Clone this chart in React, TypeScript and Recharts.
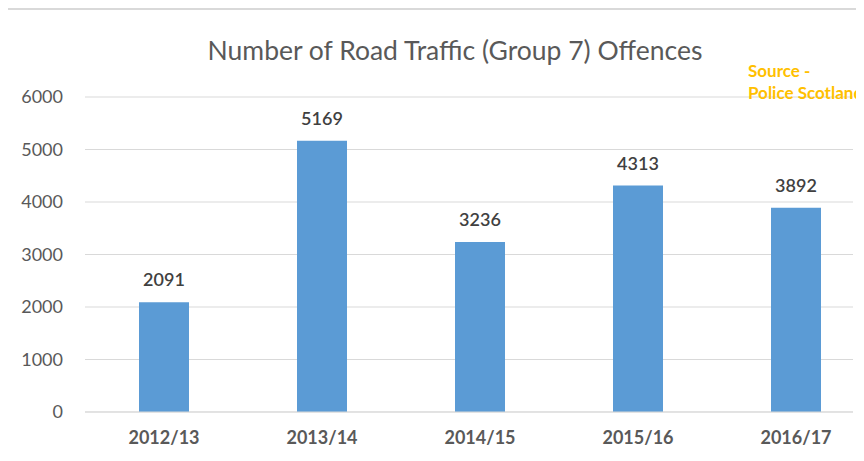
import { Bar, BarChart, CartesianGrid, LabelList, XAxis, YAxis } from "recharts";

const years = ["2012/13", "2013/14", "2014/15", "2015/16", "2016/17"];
const offences = [2091, 5169, 3236, 4313, 3892];
const yTicks = [0, 1000, 2000, 3000, 4000, 5000, 6000];

const data = years.map((year, i) => ({ year, offences: offences[i] }));

const font = "Lato, 'Open Sans', sans-serif";

export default function App() {
  return (
    <div
      style={{
        position: "relative",
        width: 856,
        height: 451,
        borderTop: "2px solid #d9d9d9",
        overflow: "hidden",
        fontFamily: font,
      }}
    >
      <div
        style={{
          position: "absolute",
          left: 0,
          width: 894,
          top: 24,
          textAlign: "center",
          fontSize: 26.5,
          color: "#595959",
        }}
      >
        Number of Road Traffic (Group 7) Offences
      </div>
      <div
        style={{
          position: "absolute",
          left: 740,
          top: 50,
          fontSize: 17,
          fontWeight: 700,
          color: "#FFC000",
          lineHeight: "22px",
          whiteSpace: "nowrap",
          zIndex: 2,
        }}
      >
        <div>Source -</div>
        <div>Police Scotland</div>
      </div>
      <BarChart
        width={856}
        height={451}
        data={data}
        margin={{ top: 87, right: 11, bottom: 19, left: 0 }}
      >
        <CartesianGrid vertical={false} stroke="#d9d9d9" />
        <XAxis
          dataKey="year"
          padding={{ left: 0, right: -22 }}
          axisLine={{ stroke: "#d9d9d9" }}
          tickLine={false}
          tickMargin={13}
          height={30}
          tick={{ fill: "#595959", fontSize: 18, fontWeight: 700, fontFamily: font }}
        />
        <YAxis
          width={77}
          domain={[0, 6000]}
          ticks={yTicks}
          axisLine={false}
          tickLine={false}
          tickMargin={16}
          tick={{ fill: "#595959", fontSize: 18, fontFamily: font }}
        />
        <Bar dataKey="offences" fill="#5B9BD5" barSize={50} isAnimationActive={false}>
          <LabelList
            dataKey="offences"
            position="top"
            offset={16}
            fill="#404040"
            fontSize={18}
            fontWeight={600}
            fontFamily={font}
          />
        </Bar>
      </BarChart>
    </div>
  );
}
